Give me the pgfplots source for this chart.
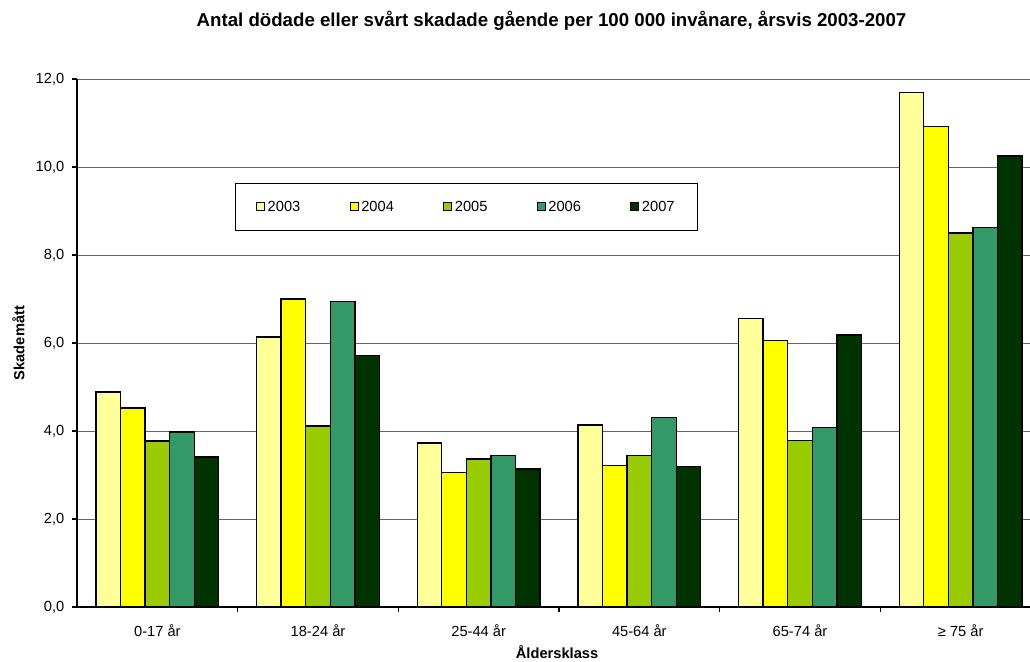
\documentclass[border=0pt]{standalone}
\usepackage{pgfplots}
\pgfplotsset{compat=1.18}
\usepackage{fontspec}
\setmainfont{Liberation Sans}

\definecolor{c2003}{HTML}{FFFF99}
\definecolor{c2004}{HTML}{FFFF00}
\definecolor{c2005}{HTML}{99CC00}
\definecolor{c2006}{HTML}{339966}
\definecolor{c2007}{HTML}{003300}

\pgfplotsset{
  yearbar/.style={
    fill=#1, draw=black, line width=1pt,
    legend image code/.code={\draw[fill=#1, draw=black, line width=0.7pt] (0pt,-3pt) rectangle (6pt,3pt);}
  }
}

\begin{document}
\begin{tikzpicture}
\begin{axis}[
  at={(0pt,0pt)}, anchor=south west,
  scale only axis, width=723pt, height=396pt,
  ybar,
  bar width=0.153,
  xmin=-0.5, xmax=5.5, ymin=0, ymax=12,
  axis x line*=bottom, axis y line*=left,
  axis line style={black, line width=0.8pt},
  xtick={0,...,5},
  xticklabels={0-17 år, 18-24 år, 25-44 år, 45-64 år, 65-74 år, ≥ 75 år},
  minor xtick={0.5,1.5,...,4.5},
  ytick={0,2,...,12},
  minor ytick={0,2,...,12},
  major tick length=0pt,
  minor tick length=3.75pt,
  tick align=outside,
  tick style={black, line width=0.8pt},
  ymajorgrids,
  major grid style={gray!80!black, line width=0.7pt},
  /pgf/number format/assume math mode=true,
  y tick label style={
    /pgf/number format/fixed,
    /pgf/number format/fixed zerofill,
    /pgf/number format/precision=1,
    /pgf/number format/use comma,
    xshift=-6pt},
  tick label style={font=\fontsize{11}{13}\selectfont},
  x tick label style={yshift=-9.5pt},
  xlabel={\bfseries Åldersklass},
  ylabel={\bfseries Skademått},
  label style={font=\fontsize{11}{13}\selectfont},
  xlabel style={at={(0.498,0)}, anchor=center, yshift=-34pt},
  ylabel style={at={(0,0.5)}, anchor=center, yshift=44pt},
  legend columns=5,
  legend style={
    at={(0.1639,0.803)}, anchor=north west,
    draw=black, line width=0.7pt,
    font=\fontsize{11}{13}\selectfont,
    inner xsep=15.5pt, inner ysep=11pt,
    /tikz/every even column/.append style={column sep=35pt},
  },
]
\addplot[yearbar=c2003, bar shift=-0.306] coordinates {(0,4.89) (1,6.14) (2,3.73) (3,4.14) (4,6.56) (5,11.70)};
\addplot[yearbar=c2004, bar shift=-0.153] coordinates {(0,4.52) (1,7.00) (2,3.05) (3,3.22) (4,6.06) (5,10.92)};
\addplot[yearbar=c2005, bar shift=0]      coordinates {(0,3.77) (1,4.11) (2,3.36) (3,3.45) (4,3.78) (5,8.50)};
\addplot[yearbar=c2006, bar shift=0.153]  coordinates {(0,3.98) (1,6.94) (2,3.44) (3,4.30) (4,4.08) (5,8.62)};
\addplot[yearbar=c2007, bar shift=0.306]  coordinates {(0,3.41) (1,5.71) (2,3.14) (3,3.20) (4,6.18) (5,10.25)};
\legend{2003, 2004, 2005, 2006, 2007}
\end{axis}
\node[font=\bfseries\fontsize{14}{17}\selectfont] at (355.9pt,439.5pt)
  {Antal dödade eller svårt skadade gående per 100 000 invånare, årsvis 2003-2007};
\pgfresetboundingbox
\useasboundingbox (-57.75pt,-40.5pt) rectangle (714.75pt,455.25pt);
\end{tikzpicture}
\end{document}
